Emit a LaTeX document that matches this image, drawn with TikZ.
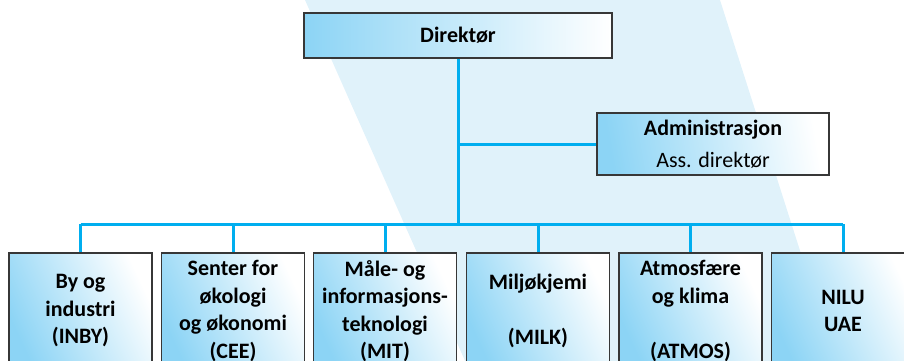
\documentclass[tikz,border=0pt]{standalone}
\usepackage{fontspec}
\setmainfont{Carlito}
\definecolor{boxblue}{RGB}{140,212,245}
\definecolor{linkblue}{RGB}{0,174,239}
\definecolor{bandblue}{RGB}{224,242,250}
\definecolor{boxline}{RGB}{55,55,55}
\begin{document}
\begin{tikzpicture}[x=1pt,y=-1pt]
    \tikzstyle{unit}=[draw=boxline, line width=1.2pt, left color=boxblue, right color=white,
        shading angle=115, inner sep=0pt, align=center, font=\fontsize{22}{27.5}\selectfont\bfseries]
    \tikzstyle{link}=[linkblue, line width=3pt]
    \useasboundingbox (0,0) rectangle (904,360);
    \clip (0,0) rectangle (904,360);
    \fill [bandblue] (305,0) -- (720,0) -- (803,260) -- (840,372) -- (470,372) -- cycle;
    \node [unit, shading angle=90, minimum width=308pt, minimum height=45pt] (dir) at (458,35.5) {Direktør};
    \node [unit, shading angle=100, minimum width=232pt, minimum height=62pt] (adm) at (713,144)
        {Administrasjon\\[5pt]\mdseries Ass. direktør};
    \node [unit, minimum width=143pt, minimum height=116pt] (inby) at (80.5,311) {By og\\industri\\(INBY)};
    \node [unit, minimum width=143pt, minimum height=116pt] (cee) at (233,311) {Senter for\\økologi\\og økonomi\\(CEE)};
    \node [unit, minimum width=143pt, minimum height=116pt] (mit) at (385,311) {Måle- og\\informasjons-\\teknologi\\(MIT)};
    \node [unit, minimum width=143pt, minimum height=116pt] (milk) at (538,311) {Miljøkjemi\\[27.5pt](MILK)};
    \node [unit, minimum width=143pt, minimum height=116pt] (atmos) at (690.5,311) {Atmosfære\\og klima\\[27.5pt](ATMOS)};
    \node [unit, minimum width=143pt, minimum height=116pt] (nilu) at (843,311) {NILU\\UAE};
    \coordinate (bus) at (458,224);
    \draw [link] (dir.south) -- (bus);
    \draw [link] (dir.south |- adm.west) -- (adm.west);
    \draw [link] (inby.north |- bus) -- (nilu.north |- bus);
    \draw [link] (inby.north) -- (inby.north |- bus);
    \draw [link] (cee.north) -- (cee.north |- bus);
    \draw [link] (mit.north) -- (mit.north |- bus);
    \draw [link] (milk.north) -- (milk.north |- bus);
    \draw [link] (atmos.north) -- (atmos.north |- bus);
    \draw [link] (nilu.north) -- (nilu.north |- bus);
\end{tikzpicture}
\end{document}
